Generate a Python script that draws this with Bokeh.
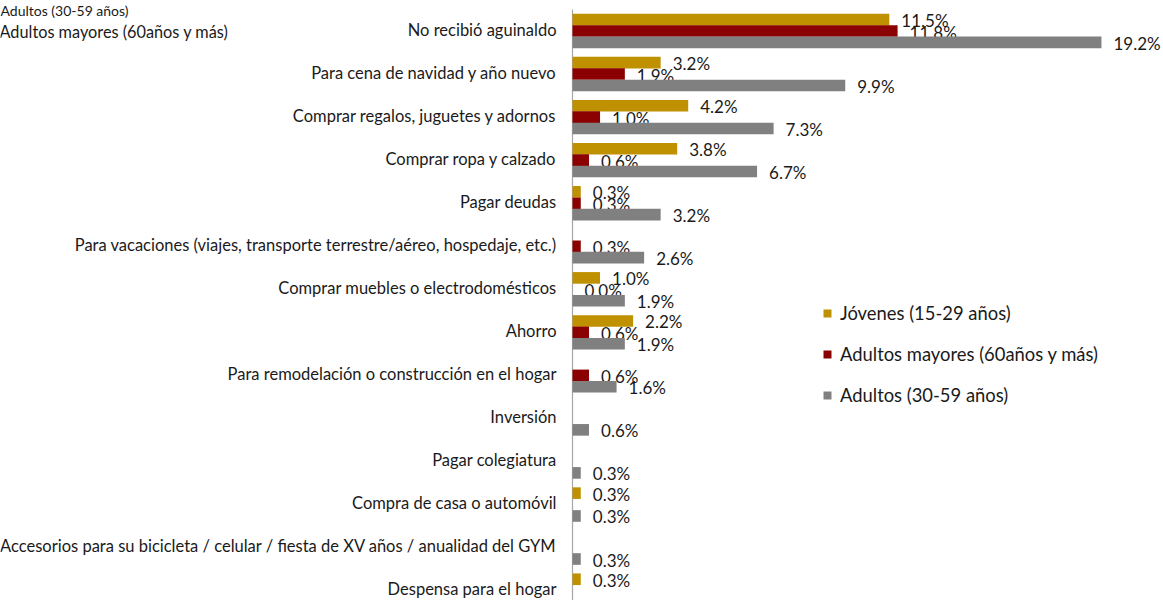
import math
from bokeh.plotting import figure
from bokeh.models import Range1d, ColumnDataSource, Label, Legend, LegendItem
from bokeh.transform import dodge
from bokeh.embed import file_html
from bokeh.resources import INLINE
from bokeh.core.properties import value

NAN = float("nan")

categories = [
    "No recibió aguinaldo",
    "Para cena de navidad y año nuevo",
    "Comprar regalos, juguetes y adornos",
    "Comprar ropa y calzado",
    "Pagar deudas",
    "Para vacaciones (viajes, transporte terrestre/aéreo, hospedaje, etc.)",
    "Comprar muebles o electrodomésticos",
    "Ahorro",
    "Para remodelación o construcción en el hogar",
    "Inversión",
    "Pagar colegiatura",
    "Compra de casa o automóvil",
    "Accesorios para su bicicleta / celular / fiesta de XV años / anualidad del GYM",
    "Despensa para el hogar",
]
jovenes = [11.5, 3.2, 4.2, 3.8, 0.3, NAN, 1.0, 2.2, NAN, NAN, NAN, 0.3, NAN, 0.3]
mayores = [11.8, 1.9, 1.0, 0.6, 0.3, 0.3, 0.0, 0.6, 0.6, NAN, NAN, NAN, NAN, NAN]
adultos = [19.2, 9.9, 7.3, 6.7, 3.2, 2.6, 1.9, 1.9, 1.6, 0.6, 0.3, 0.3, 0.3, NAN]

series_names = ["Jóvenes (15-29 años)", "Adultos mayores (60años y más)", "Adultos (30-59 años)"]
series_colors = ["#BF9000", "#8B0000", "#808080"]
series_values = [jovenes, mayores, adultos]
extra_legend_texts = ["Adultos (30-59 años)", "Adultos mayores (60años y más)"]

FONT = "Lato"
TXT = "#1a1a1a"
W, H = 1163, 600
AXIS_PX = 572.0      # horizontal position of the category axis
PX_PER_UNIT_X = 27.55
TOP_CENTER_PX = 30.5
ROW_PX = 43.05
BAR_OFF = 0.265
BAR_H = 0.27

n = len(categories)
ypos = [n - 1 - i for i in range(n)]
offsets = [BAR_OFF, 0.0, -BAR_OFF]

x_start = -AXIS_PX / PX_PER_UNIT_X
x_end = (W - AXIS_PX) / PX_PER_UNIT_X
y_end = (n - 1) + TOP_CENTER_PX / ROW_PX
y_start = y_end - H / ROW_PX

p = figure(width=W, height=H, output_backend="svg", toolbar_location=None,
           x_range=Range1d(x_start, x_end), y_range=Range1d(y_start, y_end),
           min_border_left=0, min_border_right=0, min_border_top=0, min_border_bottom=0)
p.background_fill_color = "white"
p.border_fill_color = "white"
p.outline_line_color = None
p.grid.grid_line_color = None
p.xaxis.visible = False
p.yaxis.visible = False

# category axis line
p.segment(x0=[0], y0=[y_start], x1=[0], y1=[y_end - 9 / ROW_PX],
          line_color="#A6A6A6", line_width=1.2)

# category labels
cat_src = ColumnDataSource(dict(y=ypos, t=categories, x=[0] * n))
p.text(x="x", y="y", text="t", source=cat_src, x_offset=-16, y_offset=-1.5,
       text_align="right", text_baseline="middle",
       text_font=value(FONT), text_font_size="16.5px", text_color=TXT)

items = []
for name, color, vals, off in zip(series_names, series_colors, series_values, offsets):
    src = ColumnDataSource(dict(y=ypos, v=vals))
    r = p.hbar(y=dodge("y", off), left=0, right="v", height=BAR_H, source=src,
               fill_color=color, line_color=None)
    items.append(LegendItem(label=name, renderers=[r]))
    ly, lv, lt = [], [], []
    for y, v in zip(ypos, vals):
        if not math.isnan(v):
            ly.append(y + off)
            lv.append(v)
            lt.append(f"{v:.1f}%")
    lsrc = ColumnDataSource(dict(y=ly, x=lv, t=lt))
    p.text(x="x", y="y", text="t", source=lsrc, x_offset=12, y_offset=1,
           text_baseline="middle", text_align="left",
           text_font=value(FONT), text_font_size="17px", text_color=TXT)

legend = Legend(items=items, location=(822, 194), orientation="vertical",
                glyph_width=10, glyph_height=10, label_standoff=8,
                label_text_font=FONT, label_text_font_size="18.4px",
                label_text_color=TXT, label_height=21, spacing=19,
                padding=0, margin=0, border_line_color=None,
                background_fill_alpha=0)
p.add_layout(legend, "center")

# legend of a neighbouring chart in the top-left corner
p.add_layout(Label(x=x_start, y=y_end, y_offset=-1,
                   text=extra_legend_texts[0],
                   text_baseline="top", text_font=FONT, text_font_size="14px",
                   text_color=TXT))
p.add_layout(Label(x=x_start - 1 / PX_PER_UNIT_X, y=(n - 1),
                   text=extra_legend_texts[1],
                   text_baseline="middle", text_font=FONT, text_font_size="16.3px",
                   text_color=TXT))

open("out.html", "w").write(file_html(p, INLINE))
